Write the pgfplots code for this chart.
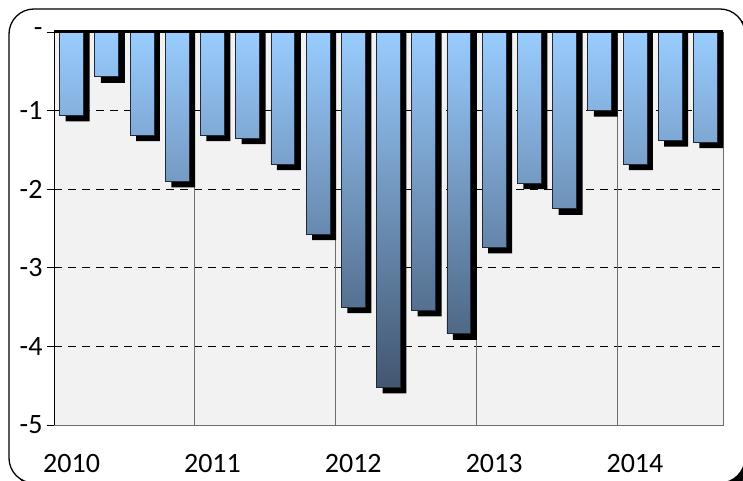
\documentclass[border=0pt]{standalone}
\usepackage{pgfplots}
\pgfplotsset{compat=1.18}
\usepackage{pgfplotstable}
\usepackage{fontspec}
\setmainfont{Carlito}
\definecolor{bgGray}{RGB}{242,242,242}
\definecolor{barTop}{RGB}{153,204,255}
\definecolor{barBot}{RGB}{66,86,112}
\definecolor{barEdge}{RGB}{30,40,55}
\definecolor{gridGray}{RGB}{110,110,110}
\pgfplotstableread{
x v
0 -1.06
1 -0.57
2 -1.31
3 -1.90
4 -1.31
5 -1.35
6 -1.68
7 -2.57
8 -3.50
9 -4.52
10 -3.54
11 -3.84
12 -2.74
13 -1.92
14 -2.25
15 -1.00
16 -1.68
17 -1.38
18 -1.40
}\datatable
\begin{document}
\begin{tikzpicture}
\useasboundingbox (0,0) rectangle (743pt,481pt);
\fill[black, rounded corners=25pt] (14pt,-7pt) rectangle (750pt,467pt);
\draw[black, fill=white, line width=1.3pt, rounded corners=25pt] (9pt,-2pt) rectangle (745pt,472pt);
\begin{axis}[
  at={(54pt,56pt)}, anchor=south west,
  scale only axis, width=669pt, height=393pt,
  xmin=-0.5, xmax=18.5, ymin=-5, ymax=0,
  axis background/.style={fill=bgGray},
  axis line style={draw=gridGray, line width=0.8pt},
  xtick={0,4,8,12,16},
  xticklabels={2010,2011,2012,2013,2014},
  xtick style={draw=none},
  xticklabel style={yshift=-26pt},
  extra x ticks={3.5,7.5,11.5,15.5},
  extra x tick labels={},
  extra x tick style={grid=major, major grid style={solid, draw=gridGray, line width=0.8pt}, tick style={draw=none}},
  ytick={-5,-4,-3,-2,-1,0},
  yticklabels={-5,-4,-3,-2,-1,-},
  ytick align=outside, ytick pos=left,
  major tick length=7pt,
  ytick style={black, line width=0.8pt},
  yticklabel style={anchor=east, xshift=-1pt},
  ymajorgrids,
  major grid style={black, line width=0.8pt, dash pattern=on 8pt off 6pt},
  tick label style={font=\fontsize{28}{32}\selectfont},
  clip=false,
]
\addplot[ybar, bar width=0.68, bar shift=0.17, fill=black, draw=none]
  table[x=x, y expr=\thisrow{v}-0.078] {\datatable};
\addplot[ybar, bar width=0.68, bar shift=0, draw=barEdge, line width=0.8pt,
  shade, top color=barTop, bottom color=barBot]
  table[x=x, y=v] {\datatable};
\draw[black, line width=1pt] (axis cs:-0.5,-5) -- (axis cs:-0.5,0);
\draw[black, line width=3pt] (axis cs:-0.5,0) -- (axis cs:18.5,0);
\end{axis}
\end{tikzpicture}
\end{document}
